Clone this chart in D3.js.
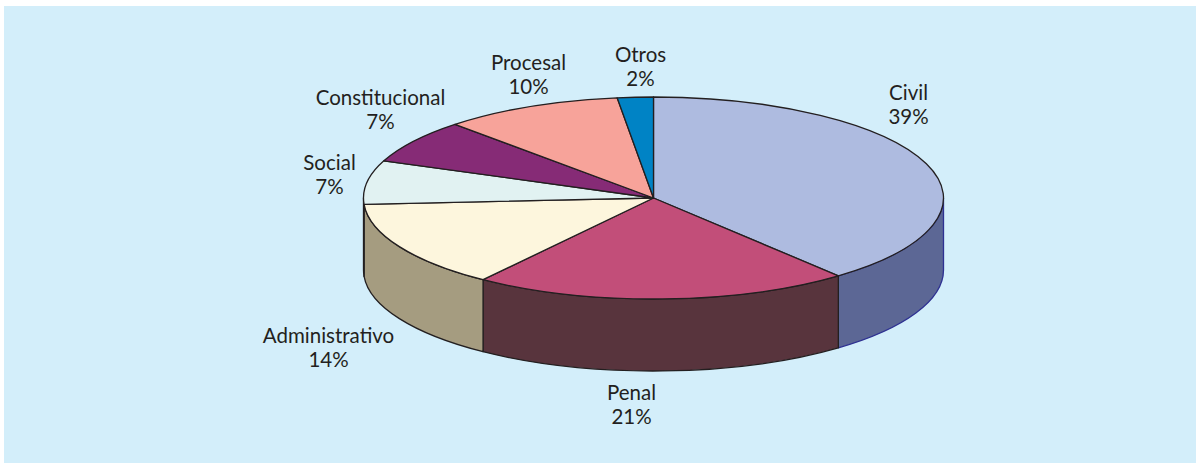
<!DOCTYPE html>
<html>
<head>
<meta charset="utf-8">
<script src="https://cdn.jsdelivr.net/npm/d3@7"></script>
<style>
  body { margin: 0; background: #fff; }
  svg text { font-family: Lato, "Open Sans", sans-serif; fill: #231f20; }
</style>
</head>
<body>
<script>
var categories = ["Civil", "Penal", "Administrativo", "Social", "Constitucional", "Procesal", "Otros"],
    values = [39, 21, 14, 7, 7, 10, 2],
    labels = ["39%", "21%", "14%", "7%", "7%", "10%", "2%"];

// top / side colours per slice
var topColors  = ["#aebbe0", "#c24e79", "#fdf6dd", "#e1f2f2", "#862b76", "#f7a39a", "#0083c5"],
    sideColors = ["#5c6795", "#58343d", "#a59c80", "#a9b5b5", "#5a1d50", "#b07670", "#005a88"],
    sideStroke = ["#2e3192", "#231f20", "#231f20", "#231f20", "#231f20", "#231f20", "#231f20"];

// label placement relative to pie centre (layout only)
var labelAt = [[255, -93], [-22, 207], [-325, 150], [-324, -23], [-273, -88], [-125, -123], [-13, -131]];

var width = 1198, height = 463,
    cx = 653.5, cy = 198,
    rx = 290, ry = 101,
    depth = 72;

var svg = d3.select("body").append("svg")
    .attr("width", width)
    .attr("height", height);

svg.append("rect")
    .attr("x", 4).attr("y", 6)
    .attr("width", 1192).attr("height", 457)
    .attr("fill", "#d3eefa");

var pie = d3.pie().sort(null).value(function(d) { return d; });
var arcs = pie(values);

function pt(a, dy) {
  return [cx + rx * Math.sin(a), cy - ry * Math.cos(a) + (dy || 0)];
}

function topPath(d) {
  var p0 = pt(d.startAngle), p1 = pt(d.endAngle);
  var large = (d.endAngle - d.startAngle) > Math.PI ? 1 : 0;
  return "M" + cx + "," + cy + "L" + p0 + "A" + rx + "," + ry + " 0 " + large + " 1 " + p1 + "Z";
}

function sidePath(d) {
  var a = Math.max(d.startAngle, Math.PI / 2),
      b = Math.min(d.endAngle, Math.PI * 1.5);
  var p0 = pt(a), p1 = pt(b), q1 = pt(b, depth), q0 = pt(a, depth);
  return "M" + p0 + "A" + rx + "," + ry + " 0 0 1 " + p1 +
         "L" + q1 + "A" + rx + "," + ry + " 0 0 0 " + q0 + "Z";
}

var front = arcs.filter(function(d) {
  return d.endAngle > Math.PI / 2 && d.startAngle < Math.PI * 1.5;
});

svg.selectAll(".side")
    .data(front)
  .enter().append("path")
    .attr("class", "side")
    .attr("d", sidePath)
    .attr("fill", function(d) { return sideColors[d.index]; })
    .attr("stroke", function(d) { return sideStroke[d.index]; })
    .attr("stroke-width", 1.3)
    .attr("stroke-linejoin", "round");

svg.selectAll(".top")
    .data(arcs)
  .enter().append("path")
    .attr("class", "top")
    .attr("d", topPath)
    .attr("fill", function(d) { return topColors[d.index]; })
    .attr("stroke", "#231f20")
    .attr("stroke-width", 1.3)
    .attr("stroke-linejoin", "round");

var lab = svg.selectAll(".lab")
    .data(arcs)
  .enter().append("text")
    .attr("class", "lab")
    .attr("text-anchor", "middle")
    .attr("font-size", 20.5)
    .attr("transform", function(d) {
      var o = labelAt[d.index];
      return "translate(" + (cx + o[0]) + "," + (cy + o[1]) + ")";
    });

lab.append("tspan")
    .attr("x", 0).attr("y", -5)
    .text(function(d) { return categories[d.index]; });
lab.append("tspan")
    .attr("x", 0).attr("y", 19)
    .text(function(d) { return labels[d.index]; });
</script>
</body>
</html>
